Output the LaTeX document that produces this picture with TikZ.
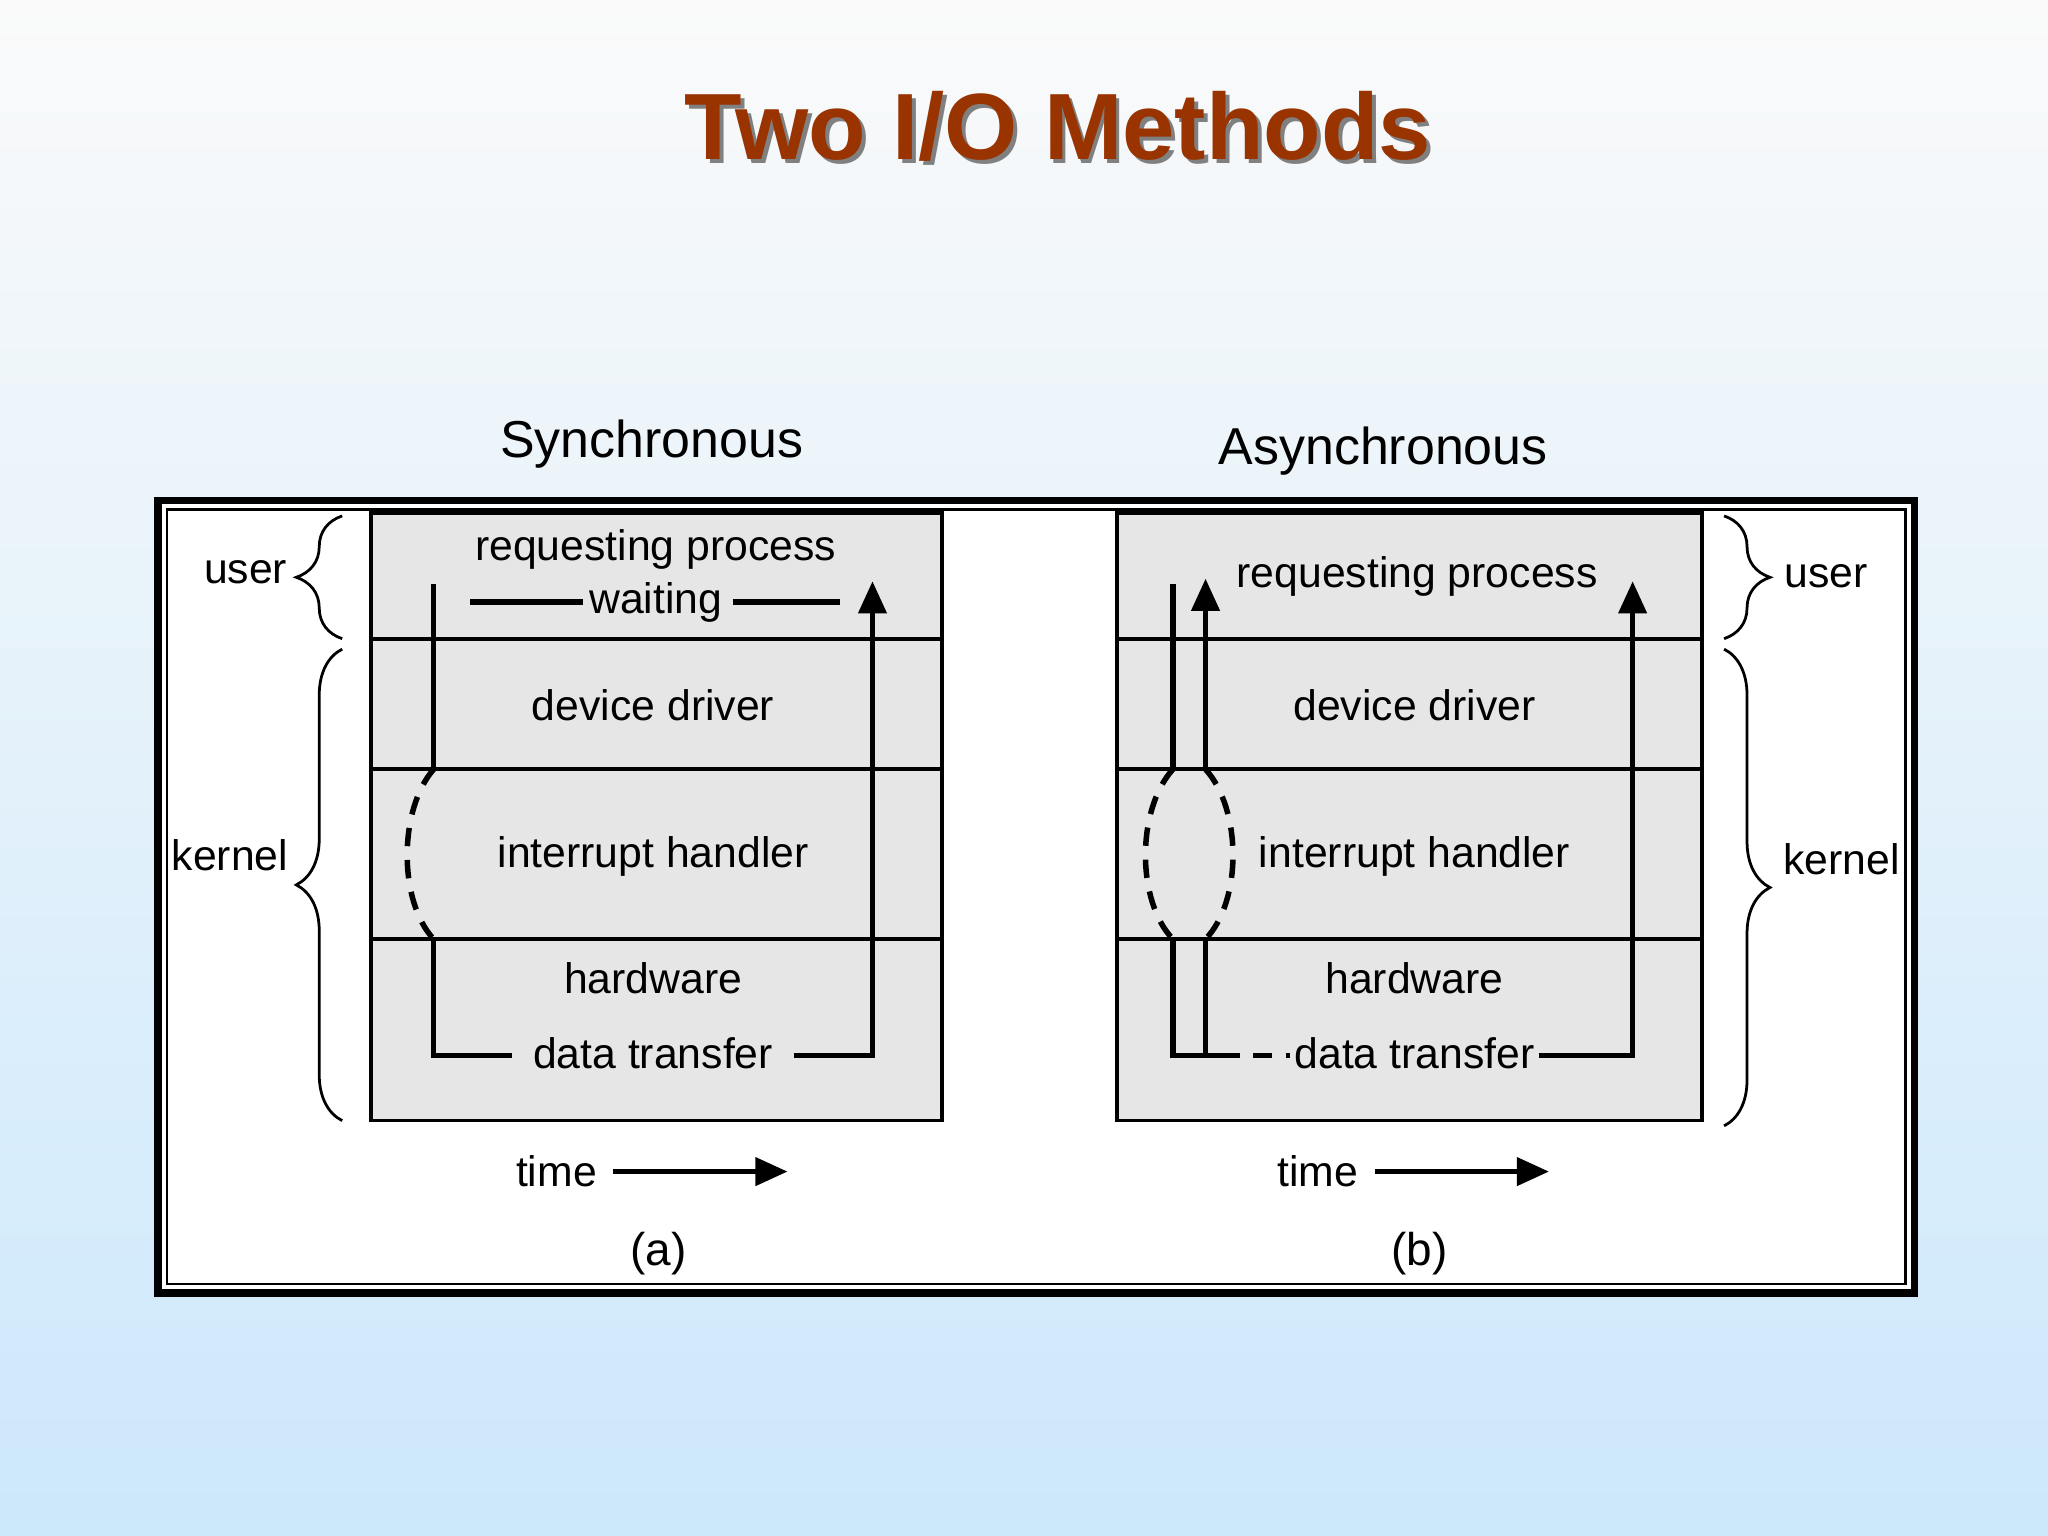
\documentclass[tikz,border=0pt]{standalone}
\usepackage{fontspec}
\setmainfont{Liberation Sans}
\usetikzlibrary{decorations.pathreplacing,arrows.meta}
\definecolor{titlec}{HTML}{993300}
\definecolor{boxg}{HTML}{E6E6E6}
\begin{document}
\begin{tikzpicture}[x=0.01cm,y=-0.01cm,
  lbl/.style={font=\fontsize{9.3pt}{10pt}\selectfont,inner sep=1pt},
  side/.style={font=\fontsize{9.3pt}{10pt}\selectfont},
  path/.style={line width=1.2pt},
  dpath/.style={line width=1.2pt,dash pattern=on 4pt off 3pt},
  arr/.style={path,-{Triangle[length=7pt,width=6pt]}},
  brc/.style={decorate,decoration={brace,amplitude=10pt},line width=0.6pt},
  box/.style={fill=boxg,draw=black,line width=0.8pt}]
\shade[top color=white!96!gray,bottom color={rgb,255:red,204;green,232;blue,251}] (0,0) rectangle (1568,1176);
\useasboundingbox (0,0) rectangle (1568,1176);
% title
\node[text=black!50,font=\bfseries\fontsize{20.5pt}{22pt}\selectfont] at (813,100) {Two I/O Methods};
\node (title) [text=titlec,font=\bfseries\fontsize{20.5pt}{22pt}\selectfont] at (810,97) {Two I/O Methods};
% frame
\draw[fill=white,line width=1.6pt] (121,383) rectangle (1466,990);
\draw[line width=0.5pt] (128,390) rectangle (1459,983);
\node (syn) [font=\fontsize{11.3pt}{12pt}\selectfont] at (499,340) {Synchronous};
\node (asy) [font=\fontsize{11.3pt}{12pt}\selectfont] at (1059,345) {Asynchronous};
% boxes
\draw[box] (284,393) rectangle (721,858);
\foreach \y in {489,589,719} \draw[line width=0.8pt] (284,\y) -- (721,\y);
\draw[box] (855,393) rectangle (1303,858);
\foreach \y in {489,589,719} \draw[line width=0.8pt] (855,\y) -- (1303,\y);
% texts (a)
\node[lbl] (ar) at (502,421) {requesting process};
\node[lbl] (aw) at (502,461) {waiting};
\node[lbl] (ad) at (500,540) {device driver};
\node[lbl] (ai) at (500,656) {interrupt handler};
\node[lbl] (ah) at (500,749) {hardware};
\node[lbl] (at) at (500,806) {data transfer};
% texts (b)
\node[lbl] (br) at (1085,441) {requesting process};
\node[lbl] (bd) at (1083,540) {device driver};
\node[lbl] (bi) at (1083,656) {interrupt handler};
\node[lbl] (bh) at (1083,749) {hardware};
\node[lbl] (bt) at (1083,806) {data transfer};
% paths (a)
\draw[path] (360,461) -- (446,461);
\draw[path] (561,461) -- (643,461);
\draw[path] (332,447) -- (332,589);
\draw[dpath] (332,589) .. controls (305,620) and (305,690) .. (332,719);
\draw[path] (332,719) -- (332,808) -- (392,808);
\draw[arr] (608,808) -- (668,808) -- (668,445);
% paths (b)
\draw[path] (898,447) -- (898,589);
\draw[arr] (923,589) -- (923,443);
\draw[dpath] (898,589) .. controls (870,620) and (870,690) .. (898,719);
\draw[dpath] (923,589) .. controls (951,620) and (951,690) .. (923,719);
\draw[path] (898,719) -- (898,808) -- (935,808);
\draw[path] (923,719) -- (923,808);
\draw[dpath] (935,808) -- (988,808);
\draw[arr] (1178,808) -- (1250,808) -- (1250,445);
% braces
\draw[brc] (262,489) -- (262,395);
\draw[brc] (262,858) -- (262,497);
\draw[brc] (1320,395) -- (1320,489);
\draw[brc] (1320,497) -- (1320,862);
\node[side] (u1) at (188,438) {user};
\node[side] (k1) at (176,655) {kernel};
\node[side] (u2) at (1398,441) {user};
\node[side] (k2) at (1410,658) {kernel};
% time
\node[side] (t1) at (426,897) {time};
\draw[arr] (469,897) -- (603,897);
\node[side] (t2) at (1009,897) {time};
\draw[arr] (1053,897) -- (1186,897);
\node[font=\rmfamily\fontsize{10pt}{11pt}\selectfont] (la) at (504,960) {(a)};
\node[font=\rmfamily\fontsize{10pt}{11pt}\selectfont] (lb) at (1087,960) {(b)};
\end{tikzpicture}
\end{document}
